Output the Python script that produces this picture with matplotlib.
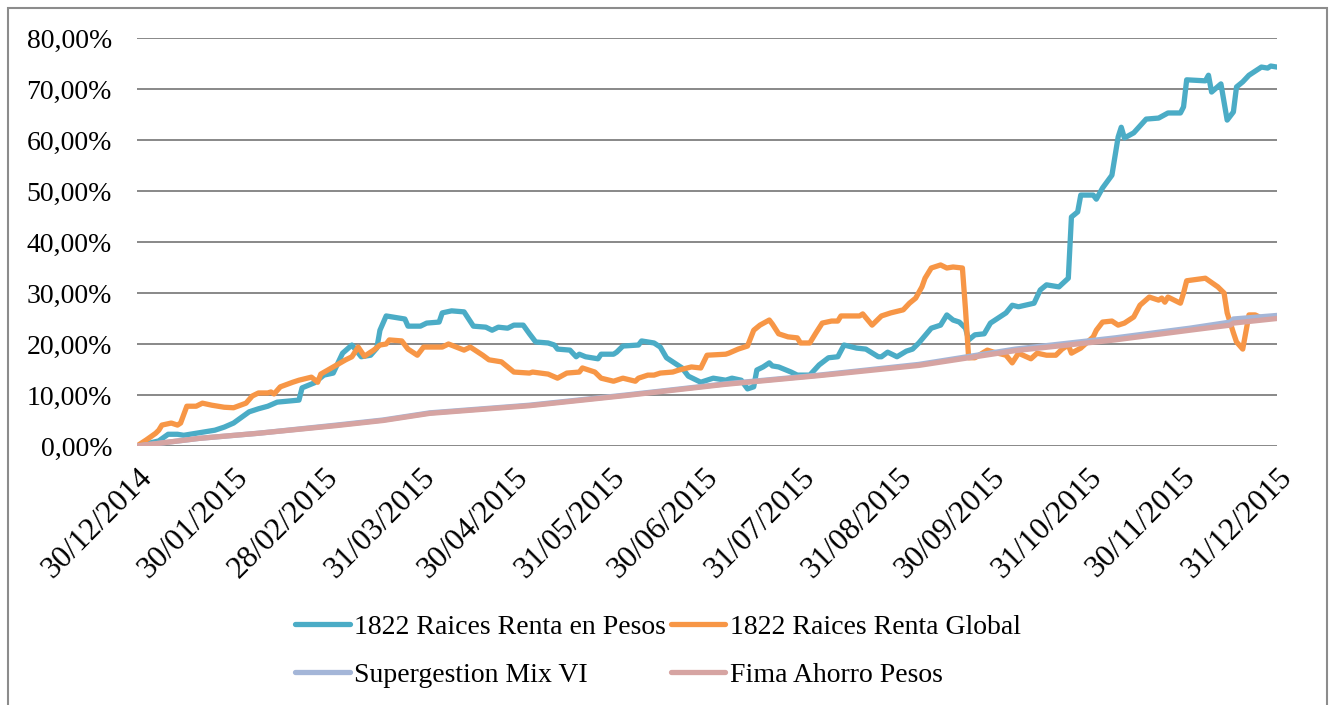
import datetime as dt
import matplotlib
matplotlib.use("Agg")
import matplotlib.pyplot as plt
from matplotlib.patches import Rectangle
from matplotlib.ticker import FuncFormatter

plt.rcParams['font.family'] = ['Liberation Serif', 'DejaVu Serif']

start = dt.date(2014, 12, 30)

# days since 30/12/2014 and cumulative return in %
pesos_days = [0, 7, 10, 13, 15, 19, 25, 28, 31, 36, 39, 42, 45, 52, 53, 57, 60, 63, 66, 69,
              72, 75, 77, 78, 80, 86, 87, 91, 93, 97, 98, 101, 105, 108, 112, 114, 116, 119, 121, 124,
              126, 128, 132, 134, 135, 139, 141, 142, 144, 148, 149, 153, 154, 156, 161, 162, 166, 168, 170, 172,
              175, 177, 181, 185, 189, 191, 194, 196, 198, 199, 201, 203, 204, 206, 210, 212, 216, 219, 222, 225,
              227, 231, 234, 238, 239, 241, 244, 247, 249, 251, 255, 258, 260, 262, 264, 266, 267, 269, 272, 274,
              277, 279, 281, 283, 288, 290, 292, 296, 299, 300, 302, 303, 307, 308, 310, 313, 315, 316, 317, 320,
              324, 328, 331, 335, 336, 337, 343, 344, 345, 348, 350, 352, 353, 355, 357, 358, 361, 363, 364, 366]
pesos_vals = [0.0, 1.0, 2.3, 2.3, 2.1, 2.5, 3.1, 3.7, 4.5, 6.7, 7.3, 7.8, 8.6, 9.0, 11.4, 12.4, 13.9, 14.3, 18.2, 19.8,
              17.5, 17.8, 19.2, 22.7, 25.5, 24.9, 23.5, 23.5, 24.1, 24.3, 26.1, 26.5, 26.3, 23.5, 23.3, 22.7, 23.3, 23.1, 23.7, 23.7,
              22.0, 20.4, 20.2, 19.8, 19.0, 18.8, 17.5, 18.0, 17.5, 17.1, 18.0, 18.0, 18.4, 19.6, 19.8, 20.6, 20.2, 19.4, 17.3, 16.5,
              15.3, 13.7, 12.5, 13.3, 12.9, 13.3, 12.9, 11.2, 11.6, 14.9, 15.5, 16.3, 15.7, 15.5, 14.5, 13.9, 13.9, 15.9, 17.3, 17.5,
              19.8, 19.2, 19.0, 17.5, 17.5, 18.4, 17.5, 18.6, 19.0, 20.2, 23.1, 23.7, 25.7, 24.7, 24.3, 23.1, 20.8, 21.8, 22.0, 24.1,
              25.3, 26.1, 27.6, 27.3, 28.0, 30.6, 31.6, 31.2, 32.9, 44.9, 45.9, 49.2, 49.2, 48.4, 50.6, 53.1, 60.6, 62.5, 60.4, 61.4,
              64.1, 64.3, 65.3, 65.3, 66.5, 71.8, 71.6, 72.7, 69.4, 71.0, 63.9, 65.5, 70.4, 71.4, 72.7, 73.1, 74.3, 74.1, 74.5, 74.3]

global_days = [0, 3, 6, 7, 8, 11, 13, 14, 16, 19, 21, 24, 28, 31, 35, 37, 39, 42, 43, 44,
               46, 50, 52, 56, 58, 59, 63, 67, 69, 71, 73, 76, 78, 80, 81, 85, 87, 90, 92, 98,
               100, 105, 107, 111, 113, 117, 121, 126, 127, 132, 135, 138, 142, 143, 147, 149, 153, 156, 160, 161,
               164, 166, 168, 172, 174, 178, 181, 183, 189, 190, 193, 196, 198, 200, 203, 204, 206, 209, 212, 213,
               216, 218, 220, 223, 225, 226, 232, 233, 236, 239, 242, 246, 248, 250, 252, 253, 255, 258, 260, 262,
               265, 266, 267, 269, 273, 275, 279, 281, 283, 287, 289, 292, 295, 297, 299, 300, 303, 307, 308, 310,
               313, 315, 317, 320, 322, 325, 328, 329, 330, 331, 335, 336, 337, 343, 347, 349, 350, 352, 353, 355,
               357, 359, 361, 364, 366]
global_vals = [0.0, 1.2, 2.5, 3.1, 4.1, 4.5, 4.1, 4.5, 7.8, 7.8, 8.4, 8.0, 7.6, 7.5, 8.4, 9.8, 10.4, 10.4, 10.6, 10.2,
               11.6, 12.5, 12.9, 13.5, 12.5, 14.1, 15.5, 16.9, 17.5, 19.4, 17.6, 18.8, 19.8, 20.0, 20.8, 20.6, 19.0, 17.8, 19.4, 19.4,
               20.0, 18.8, 19.4, 17.8, 16.9, 16.5, 14.5, 14.3, 14.5, 14.1, 13.3, 14.3, 14.5, 15.3, 14.5, 13.3, 12.7, 13.3, 12.7, 13.3,
               13.9, 13.9, 14.3, 14.5, 14.9, 15.5, 15.3, 17.8, 18.0, 18.2, 19.0, 19.6, 22.7, 23.7, 24.7, 23.9, 22.0, 21.4, 21.2, 20.2,
               20.2, 22.2, 24.1, 24.5, 24.5, 25.5, 25.5, 25.9, 23.7, 25.5, 26.1, 26.7, 28.0, 29.0, 31.2, 32.9, 34.9, 35.5, 34.9, 35.1,
               34.9, 26.7, 17.3, 17.3, 18.8, 18.4, 17.8, 16.3, 18.2, 17.1, 18.2, 17.8, 17.8, 19.0, 19.8, 18.2, 19.2, 21.4, 22.7, 24.3,
               24.5, 23.7, 24.1, 25.3, 27.6, 29.2, 28.6, 29.0, 28.2, 29.2, 28.0, 30.0, 32.4, 32.9, 31.2, 30.0, 26.1, 22.2, 20.4, 19.0,
               25.7, 25.7, 25.1, 25.3, 25.5]

mix_days = [0, 20, 39, 64, 79, 94, 126, 157, 189, 219, 251, 282, 314, 338, 351, 352, 366]
mix_vals = [0.0, 1.5, 2.5, 4.1, 5.1, 6.5, 8.0, 10.0, 12.2, 13.9, 16.0, 19.0, 21.2, 23.1, 24.3, 24.9, 25.6]

fima_days = [0, 20, 39, 64, 79, 94, 126, 157, 189, 219, 251, 282, 314, 338, 351, 352, 366]
fima_vals = [0.0, 1.5, 2.5, 4.0, 5.0, 6.4, 7.9, 9.9, 12.1, 13.8, 15.8, 18.7, 20.8, 22.7, 23.7, 24.1, 25.0]

tick_dates = ["30/12/2014", "30/01/2015", "28/02/2015", "31/03/2015", "30/04/2015", "31/05/2015",
              "30/06/2015", "31/07/2015", "31/08/2015", "30/09/2015", "31/10/2015", "30/11/2015", "31/12/2015"]

series = [
    ("1822 Raices Renta en Pesos", pesos_days, pesos_vals, "#4BACC6"),
    ("1822 Raices Renta Global", global_days, global_vals, "#F79646"),
    ("Supergestion Mix VI", mix_days, mix_vals, "#A4B6D8"),
    ("Fima Ahorro Pesos", fima_days, fima_vals, "#D6A4A2"),
]

W, H = 1333, 705
fig = plt.figure(figsize=(W / 100, H / 100), dpi=100)
ax = fig.add_axes([137 / W, 1 - 446 / H, (1277 - 137) / W, (446 - 38) / H])

# outer chart border
fig.patches.append(Rectangle((8 / W, -0.01), (1327 - 8) / W, 1 - 8 / H + 0.01, transform=fig.transFigure,
                             fill=False, edgecolor="#8C8C8C", linewidth=1.5))

lines = {}
for name, days, vals, color in series:
    x = [start + dt.timedelta(days=d) for d in days]
    y = [v / 100 for v in vals]
    lines[name], = ax.plot(x, y, color=color, linewidth=3.8, label=name,
                           solid_capstyle="round", solid_joinstyle="round")

ax.set_ylim(0, 0.8)
ax.set_yticks([i / 10 for i in range(9)])
ax.yaxis.set_major_formatter(FuncFormatter(lambda v, p: f"{v * 100:.2f}%".replace(".", ",")))
ax.set_xlim(start, start + dt.timedelta(days=366))
ticks = [dt.datetime.strptime(t, "%d/%m/%Y").date() for t in tick_dates]
ax.set_xticks(ticks)
ax.set_xticklabels(tick_dates, rotation=45, ha="right", va="top", rotation_mode="anchor", fontsize=22.5)

ax.grid(axis="y", color="#888888", linewidth=1.4)
ax.set_axisbelow(True)
for s in ax.spines.values():
    s.set_visible(False)
ax.tick_params(axis="y", length=0, labelsize=20, pad=18)
ax.tick_params(axis="x", length=0, pad=12)

# legend filled row by row like the original
order = ["1822 Raices Renta en Pesos", "Supergestion Mix VI", "1822 Raices Renta Global", "Fima Ahorro Pesos"]
fig.legend([lines[n] for n in order], order, loc="center", bbox_to_anchor=(658 / W, 1 - 651 / H), ncol=2,
           frameon=False, fontsize=20, handlelength=1.95, handletextpad=0.15, columnspacing=0.2,
           labelspacing=0.8)

fig.savefig("out.png", dpi=100)
